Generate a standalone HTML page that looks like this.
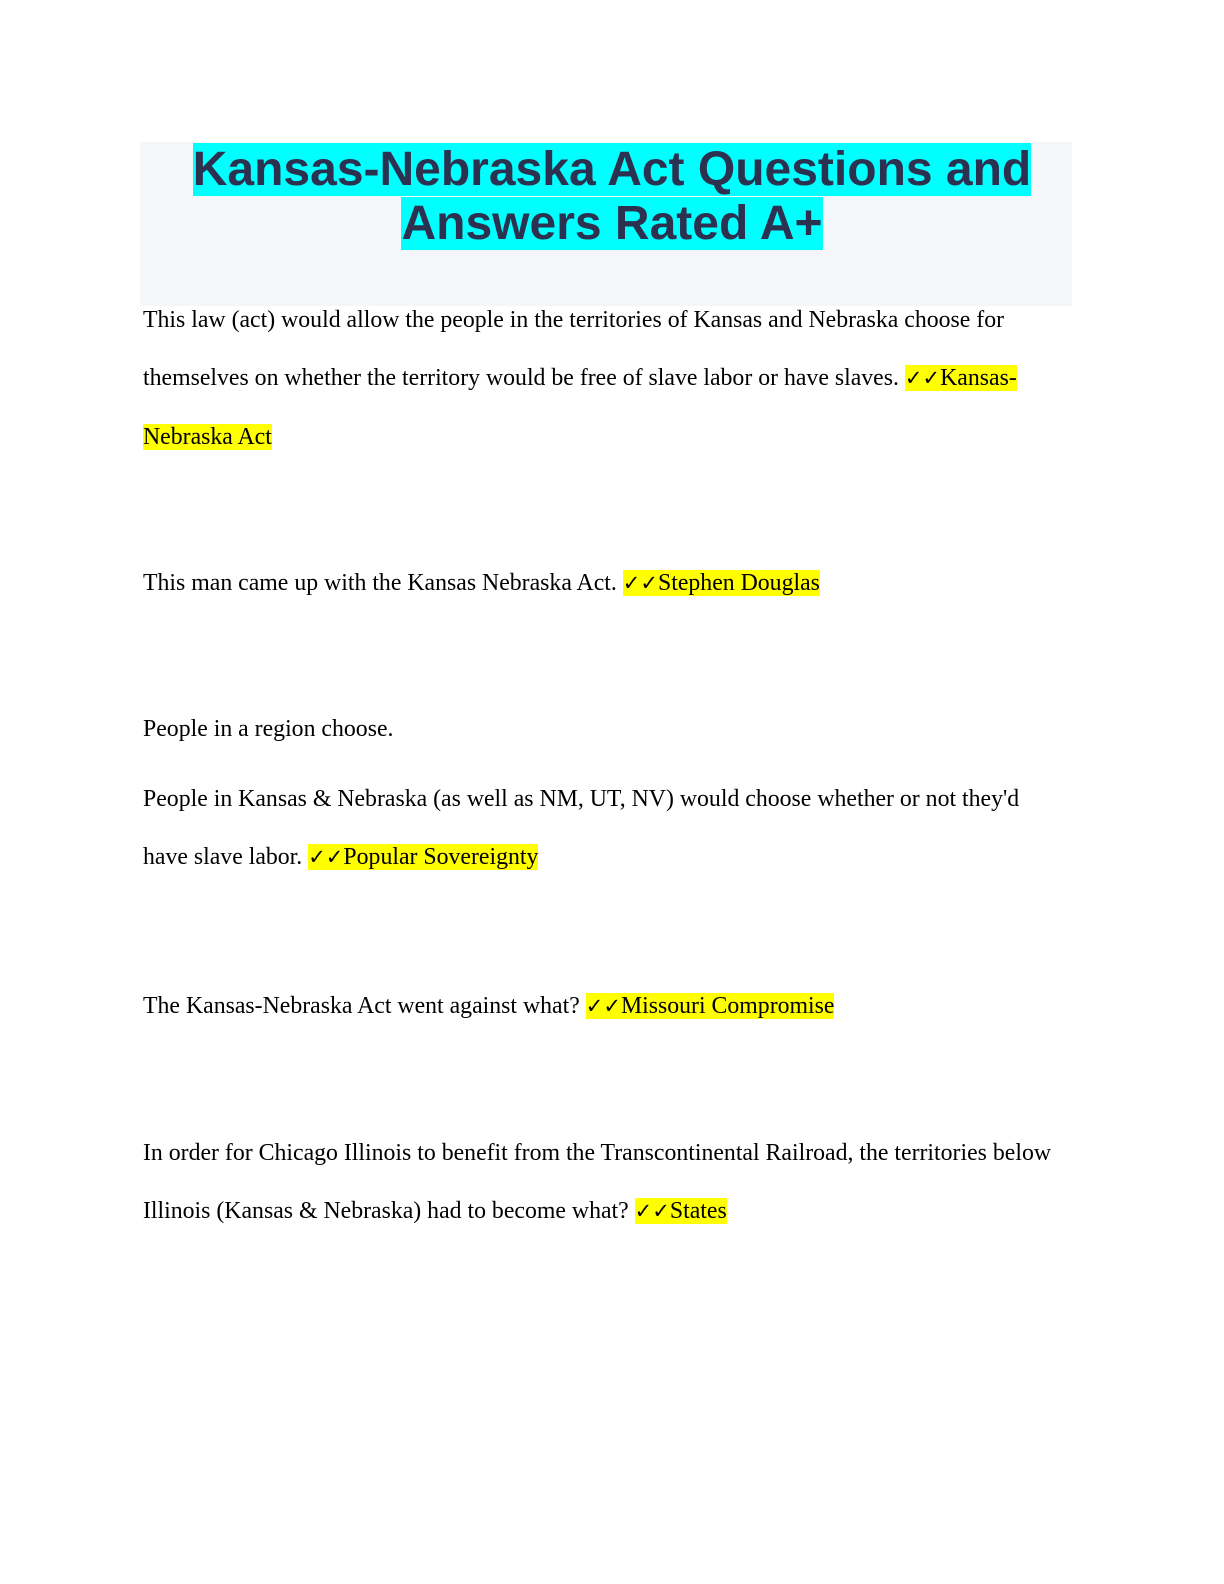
<!DOCTYPE html>
<html><head><meta charset="utf-8"><style>
html,body{margin:0;padding:0;background:#fff;}
body{width:1224px;height:1584px;position:relative;overflow:hidden;}
.box{position:absolute;left:140px;top:142px;width:932px;height:164px;background:#f5f6fa;}
.t{position:absolute;left:0;width:1224px;text-align:center;font-family:"Liberation Sans",sans-serif;font-weight:bold;font-size:48px;color:#2d3150;line-height:54px;white-space:nowrap;}
.t span{background:#00ffff;}
.l{position:absolute;left:143px;font-family:"Liberation Serif",serif;font-size:23.8px;line-height:33px;color:#000;white-space:nowrap;}
.h{background:#ffff00;}
.h b{font-family:"DejaVu Sans",sans-serif;font-size:21px;}
</style></head><body>
<div class="box"></div>
<div class="t" style="top:143px;"><span>Kansas-Nebraska Act Questions and</span></div>
<div class="t" style="top:197px;"><span>Answers Rated A+</span></div>
<div class="l" style="top:304px;">This law (act) would allow the people in the territories of Kansas and Nebraska choose for</div>
<div class="l" style="top:362px;">themselves on whether the territory would be free of slave labor or have slaves. <span class="h"><b>✓✓</b>Kansas-</span></div>
<div class="l" style="top:421px;"><span class="h">Nebraska Act</span></div>
<div class="l" style="top:567px;">This man came up with the Kansas Nebraska Act. <span class="h"><b>✓✓</b>Stephen Douglas</span></div>
<div class="l" style="top:713px;">People in a region choose.</div>
<div class="l" style="top:783px;">People in Kansas &amp; Nebraska (as well as NM, UT, NV) would choose whether or not they'd</div>
<div class="l" style="top:841px;">have slave labor. <span class="h"><b>✓✓</b>Popular Sovereignty</span></div>
<div class="l" style="top:990px;">The Kansas-Nebraska Act went against what? <span class="h"><b>✓✓</b>Missouri Compromise</span></div>
<div class="l" style="top:1137px;">In order for Chicago Illinois to benefit from the Transcontinental Railroad, the territories below</div>
<div class="l" style="top:1195px;">Illinois (Kansas &amp; Nebraska) had to become what? <span class="h"><b>✓✓</b>States</span></div>
</body></html>
